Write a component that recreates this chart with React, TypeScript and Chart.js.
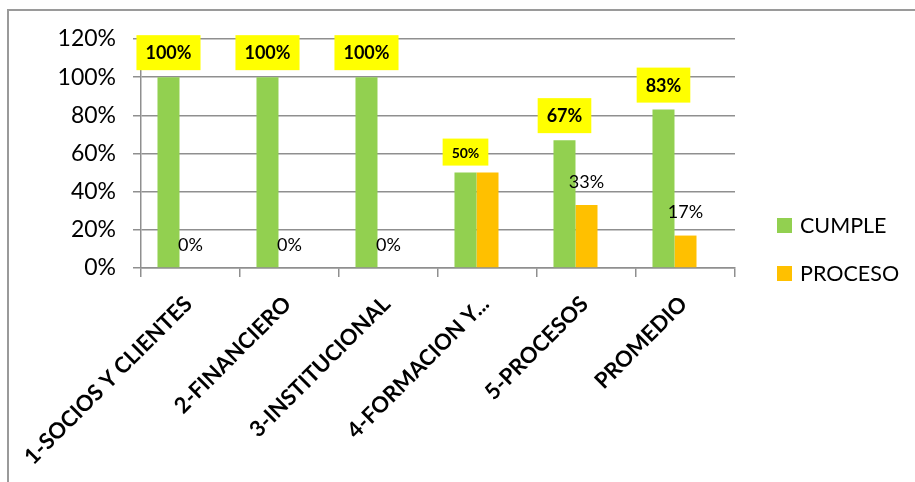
import React, { useEffect, useRef } from "react";
import { Chart, registerables } from "chart.js";

Chart.register(...registerables);

const categories = [
  "1-SOCIOS Y CLIENTES",
  "2-FINANCIERO",
  "3-INSTITUCIONAL",
  "4-FORMACION Y...",
  "5-PROCESOS",
  "PROMEDIO",
];
const cumple = [100, 100, 100, 50, 67, 83];
const proceso = [0, 0, 0, 50, 33, 17];
const noCumple = [null, null, null, null, null, null];
const procesoLabelShown = [true, true, true, false, true, true];
const cumpleLabelSize = [18, 18, 18, 14, 18, 18];

const GREEN = "#92D050";
const ORANGE = "#FFC000";
const GRID = "#8f8f8f";
const FONT = "Lato, 'Open Sans', sans-serif";

const labelsPlugin = {
  id: "valueLabels",
  afterDatasetsDraw(chart: any) {
    const ctx = chart.ctx;
    ctx.save();
    ctx.textAlign = "center";
    ctx.textBaseline = "middle";
    const m0 = chart.getDatasetMeta(0);
    m0.data.forEach((bar: any, i: number) => {
      const v = chart.data.datasets[0].data[i];
      if (v == null) return;
      const size = cumpleLabelSize[i];
      ctx.font = `bold ${size}px ${FONT}`;
      const text = `${v}%`;
      const w = ctx.measureText(text).width + 18;
      const h = Math.round(size * 1.95);
      const bottom = bar.y - 7;
      ctx.fillStyle = "#FFFF00";
      ctx.fillRect(bar.x - w / 2, bottom - h, w, h);
      ctx.fillStyle = "#000";
      ctx.fillText(text, bar.x, bottom - h / 2 + 1);
    });
    const m1 = chart.getDatasetMeta(1);
    ctx.font = `18px ${FONT}`;
    ctx.fillStyle = "#000";
    m1.data.forEach((bar: any, i: number) => {
      const v = chart.data.datasets[1].data[i];
      if (v == null || !procesoLabelShown[i]) return;
      ctx.fillText(`${v}%`, bar.x, bar.y - 23);
    });
    ctx.restore();
  },
  afterDraw(chart: any) {
    const ctx = chart.ctx;
    ctx.save();
    const shown = chart.data.datasets.filter((d: any) =>
      d.data.some((x: any) => x != null)
    );
    ctx.font = `21.5px ${FONT}`;
    ctx.textAlign = "left";
    ctx.textBaseline = "middle";
    const right = chart.chartArea.right;
    shown.forEach((d: any, k: number) => {
      const bx = right + 42;
      const by = 218 + k * 48;
      ctx.fillStyle = d.backgroundColor;
      ctx.fillRect(bx, by, 15, 15);
      ctx.fillStyle = "#000";
      ctx.fillText(d.label, bx + 23, by + 8.5);
    });
    ctx.restore();
  },
};

export default function App() {
  const ref = useRef<HTMLCanvasElement | null>(null);

  useEffect(() => {
    if (!ref.current) return;
    Chart.defaults.font.family = FONT;
    const chart = new Chart(ref.current, {
      type: "bar",
      data: {
        labels: categories,
        datasets: [
          { label: "CUMPLE", data: cumple, backgroundColor: GREEN },
          { label: "PROCESO", data: proceso, backgroundColor: ORANGE },
          { label: "NO CUMPLE", data: noCumple as any, backgroundColor: "#C00000" },
        ],
      },
      options: {
        animation: false,
        responsive: false,
        devicePixelRatio: 1,
        layout: { padding: { left: 0, top: 39, right: 180, bottom: 0 } },
        datasets: {
          bar: { categoryPercentage: 0.667, barPercentage: 1.0 },
        },
        plugins: {
          legend: { display: false },
          tooltip: { enabled: false },
        },
        scales: {
          x: {
            grid: {
              display: true,
              drawOnChartArea: false,
              drawTicks: true,
              tickLength: 9,
              offset: true,
              color: GRID,
              lineWidth: 1.5,
            },
            border: { display: true, color: GRID, width: 1.5 },
            ticks: {
              autoSkip: false,
              minRotation: 45,
              maxRotation: 45,
              padding: 14,
              labelOffset: -2,
              color: "#000",
              font: { family: FONT, size: 22, weight: "bold" },
            },
            afterFit(scale: any) {
              scale.height = 214;
              scale.paddingLeft = 0;
              scale.paddingRight = 0;
            },
          },
          y: {
            min: 0,
            max: 120,
            grid: {
              color: GRID,
              lineWidth: 1.5,
              drawTicks: true,
              tickLength: 8,
            },
            border: { display: true, color: GRID, width: 1.5 },
            ticks: {
              stepSize: 20,
              padding: 17,
              color: "#000",
              font: { family: FONT, size: 23 },
              callback: (v: any) => `${v}%`,
            },
            afterFit(scale: any) {
              scale.width = 141;
            },
          },
        },
      },
      plugins: [labelsPlugin],
    });
    return () => chart.destroy();
  }, []);

  return (
    <div
      style={{
        position: "fixed",
        left: 0,
        top: 0,
        width: 915,
        height: 482,
        overflow: "hidden",
        background: "#fff",
      }}
    >
      <div
        style={{
          position: "absolute",
          left: 7,
          top: 9,
          width: 1000,
          height: 600,
          border: "2px solid #9a9a9a",
          boxSizing: "border-box",
        }}
      />
      <canvas
        ref={ref}
        width={915}
        height={482}
        style={{ position: "absolute", left: 0, top: 0, width: 915, height: 482 }}
      />
    </div>
  );
}
